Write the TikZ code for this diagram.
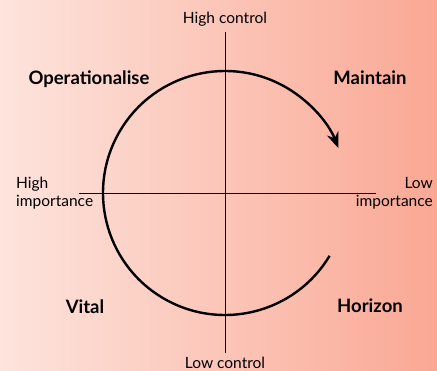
\documentclass[tikz,border=0pt]{standalone}
\usepackage{fontspec}
\setmainfont{Lato}
\usetikzlibrary{arrows.meta}
\definecolor{bgleft}{RGB}{253,228,221}
\definecolor{bgright}{RGB}{250,168,148}
\begin{document}
\begin{tikzpicture}[x=1pt,y=-1pt,
  axis/.style={line width=1pt,black},
  cycle/.style={line width=2.4pt,black,-{Stealth[length=16pt,width=12pt]}},
  axlabel/.style={font=\fontsize{15.5}{18}\selectfont,inner sep=0pt},
  quad/.style={font=\fontsize{18.5}{20}\selectfont\bfseries,inner sep=0pt}]
\shade[left color=bgleft,right color=bgright] (0,0) rectangle (437,370);
\useasboundingbox (0,0) rectangle (437,370);
\coordinate (c) at (225,193);
\coordinate (top) at (225,32);
\coordinate (bot) at (225,353);
\coordinate (lft) at (79,193);
\coordinate (rgt) at (376,193);
\draw[axis] (top) -- (bot);
\draw[axis] (lft) -- (rgt);
\draw[cycle] ([shift={(31:122)}]c) coordinate (start) arc[start angle=31, end angle=338.5, radius=122];
\node[axlabel] (hc) at (225,19) {High control};
\node[axlabel] (lc) at (225,363) {Low control};
\node[axlabel,align=left,anchor=west] (hi) at (16,193) {High\\importance};
\node[axlabel,align=right,anchor=east] (li) at (433,193) {Low\\importance};
\node[quad] (op) at (89,79) {Operationalise};
\node[quad] (ma) at (370,78) {Maintain};
\node[quad] (vi) at (85,307) {Vital};
\node[quad] (ho) at (370,306) {Horizon};
\end{tikzpicture}
\end{document}
